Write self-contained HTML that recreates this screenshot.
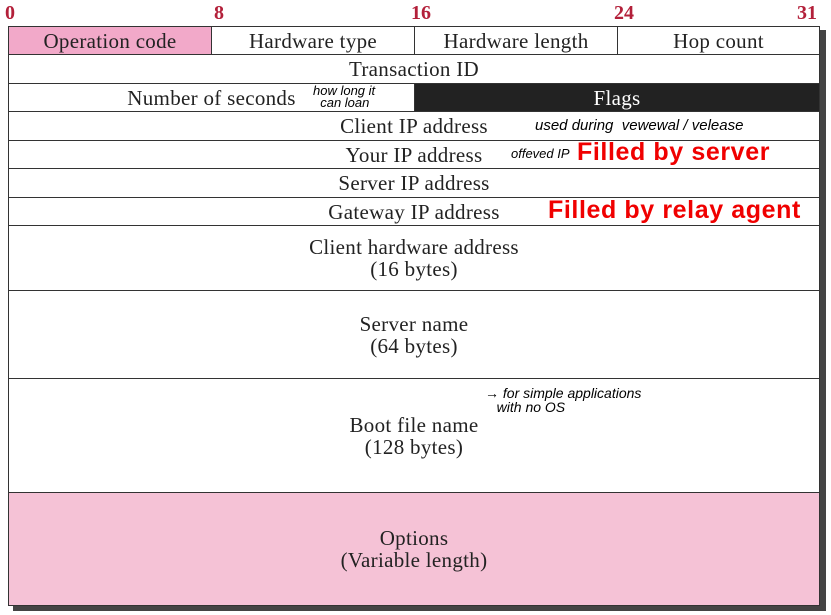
<!DOCTYPE html><html><head><style>
body{margin:0;width:831px;height:615px;background:#fff;position:relative;overflow:hidden;font-family:"Liberation Serif",serif;}
.b{position:absolute;box-sizing:border-box;border:1.5px solid #333;font-size:21px;letter-spacing:0.3px;color:#222;display:flex;align-items:center;justify-content:center;text-align:center;line-height:22px;}
.n{position:absolute;top:2px;font:bold 20px "Liberation Serif",serif;color:#b3203a;}
.r{position:absolute;font:bold 25px "Liberation Sans",sans-serif;color:#f00000;letter-spacing:0.6px;}
.h{position:absolute;font:13px "Liberation Sans",sans-serif;color:#000;font-style:italic;line-height:12px;}
</style></head><body>
<div style="position:absolute;left:13px;top:30px;width:813px;height:581px;background:#444"></div>
<div style="position:absolute;left:8px;top:26px;width:812px;height:580px;background:#fff"></div>
<div class="n" style="left:5px">0</div><div class="n" style="left:214px">8</div><div class="n" style="left:411px">16</div><div class="n" style="left:614px">24</div><div class="n" style="left:797px">31</div>
<div class="b" style="left:8px;top:26px;width:204px;height:29px;background:#f2a9c9">Operation code</div>
<div class="b" style="left:211px;top:26px;width:204px;height:29px">Hardware type</div>
<div class="b" style="left:414px;top:26px;width:204px;height:29px">Hardware length</div>
<div class="b" style="left:617px;top:26px;width:203px;height:29px">Hop count</div>
<div class="b" style="left:8px;top:54px;width:812px;height:30px">Transaction ID</div>
<div class="b" style="left:8px;top:83px;width:407px;height:29px">Number of seconds</div>
<div class="b" style="left:414px;top:83px;width:406px;height:29px;background:#222;color:#fff">Flags</div>
<div class="b" style="left:8px;top:111px;width:812px;height:30px">Client IP address</div>
<div class="b" style="left:8px;top:140px;width:812px;height:29px">Your IP address</div>
<div class="b" style="left:8px;top:168px;width:812px;height:30px">Server IP address</div>
<div class="b" style="left:8px;top:197px;width:812px;height:29px">Gateway IP address</div>
<div class="b" style="left:8px;top:225px;width:812px;height:66px">Client hardware address<br>(16 bytes)</div>
<div class="b" style="left:8px;top:290px;width:812px;height:89px">Server name<br>(64 bytes)</div>
<div class="b" style="left:8px;top:378px;width:812px;height:115px">Boot file name<br>(128 bytes)</div>
<div class="b" style="left:8px;top:492px;width:812px;height:114px;background:#f5c2d6">Options<br>(Variable length)</div>
<div class="r" style="left:577px;top:138px">Filled by server</div>
<div class="r" style="left:548px;top:196px">Filled by relay agent</div>
<div class="h" style="left:313px;top:85px">how long it<br>&nbsp;&nbsp;can loan</div>
<div class="h" style="left:535px;top:120px;font-size:15px">used during&nbsp; vewewal / velease</div>
<div class="h" style="left:511px;top:148px">offeved IP</div>
<div class="h" style="left:485px;top:386px;font-size:14px;line-height:14px">→ for simple applications<br>&nbsp;&nbsp;&nbsp;with no OS</div>
</body></html>
